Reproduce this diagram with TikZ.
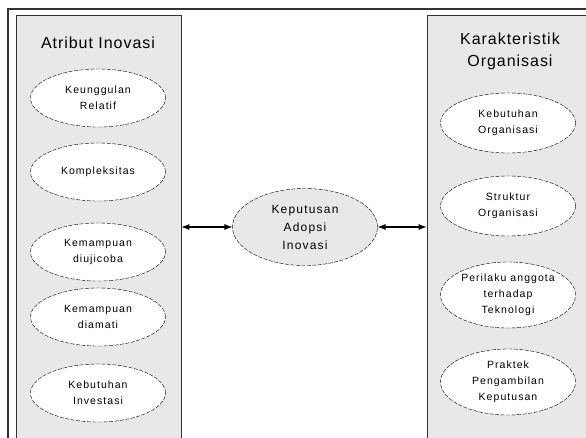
\documentclass[tikz,border=0pt]{standalone}
\usepackage{fontspec}
\setmainfont{Liberation Sans}
\newfontfamily\ovalFace[LetterSpace=10]{Liberation Sans}
\newfontfamily\titleFace[LetterSpace=6]{Liberation Sans}
\usetikzlibrary{shapes,arrows}
\usetikzlibrary{positioning,calc}
\definecolor{boxGray}{HTML}{E8E8E8}
\definecolor{lineGray}{HTML}{333333}

\begin{document}
\begin{tikzpicture}[x=1pt,y=-1pt,every text node part/.style={align=center}]
\tikzset{myFont/.style={font=\ovalFace\fontsize{10.5}{16}\selectfont}}
\tikzset{myTitle/.style={font=\titleFace\fontsize{16}{22}\selectfont}}
\tikzset{myPanel/.style={draw=lineGray,line width=0.9pt,fill=boxGray,inner sep=0pt}}
\tikzset{myOval/.style={draw,ellipse,dashed,dash pattern=on 4pt off 1.5pt,fill=white,inner sep=0pt,minimum width=135pt,minimum height=58pt,myFont}}
\tikzset{myLink/.style={draw,line width=1.7pt,latex-latex}}

\clip (0,0) rectangle (586,437);
\fill[white] (0,0) rectangle (586,437);

% outer frame
\coordinate (frameTL) at (8,9);
\draw[lineGray,line width=1.2pt] (frameTL |- 0,445) -- (frameTL) -- (595,9);

% panels
\node[myPanel,minimum width=165pt,minimum height=430pt] (atribut) at (98.5,230) {};
\node[myPanel,minimum width=170pt,minimum height=430pt] (karakter) at (512,230) {};

% left side
\node[myTitle] (atributTitle) at (98,43) {Atribut Inovasi};
\node[myOval] (relatif) at (98,98) {Keunggulan\\Relatif};
\node[myOval] (kompleks) at (98,172) {Kompleksitas};
\node[myOval] (ujicoba) at (98,252) {Kemampuan\\diujicoba};
\node[myOval] (diamati) at (98,317) {Kemampuan\\diamati};
\node[myOval] (investasi) at (98,393) {Kebutuhan\\Investasi};

% right side
\node[myTitle] (karakterTitle) at (510,51) {Karakteristik\\Organisasi};
\node[myOval,minimum height=60pt] (kebutuhan) at (508,123) {Kebutuhan\\Organisasi};
\node[myOval,minimum height=60pt] (struktur) at (508,206) {Struktur\\Organisasi};
\node[myOval,minimum height=66pt] (perilaku) at (508,295) {Perilaku anggota\\terhadap\\Teknologi};
\node[myOval,minimum height=66pt] (praktek) at (508,382) {Praktek\\Pengambilan\\Keputusan};

% centre
\node[myOval,fill=boxGray,minimum width=145pt,minimum height=77pt,font=\ovalFace\fontsize{12}{18}\selectfont] (adopsi) at (305,227) {Keputusan\\Adopsi\\Inovasi};

\path[myLink] (adopsi.west -| atribut.east) -- (adopsi.west);
\path[myLink] (adopsi.east) -- (adopsi.east -| karakter.west);
\end{tikzpicture}
\end{document}
